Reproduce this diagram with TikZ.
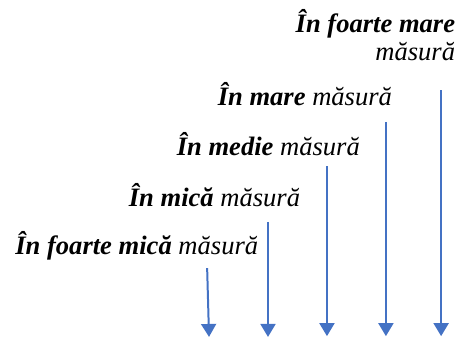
\documentclass[tikz,border=0pt]{standalone}
\usepackage{fontspec}
\setmainfont{Liberation Serif}
\usetikzlibrary{arrows.meta}
\definecolor{arrowBlue}{HTML}{4472C4}
\begin{document}
\begin{tikzpicture}[every node/.style={inner sep=0pt, outer sep=0pt}, level/.style={anchor=base east, font=\fontsize{20}{24}\selectfont\itshape}, down/.style={arrowBlue, line width=1.5pt, -{Triangle[width=11.25pt, length=9.75pt]}}]
	\useasboundingbox (0,0) rectangle (12.09,8.943);
	% scale labels
	\node[level] (veryHighText) at (12.04, 8.07) {\textbf{În foarte mare}};
	\node[level] (veryHighText2) at (12.04, 7.33) {măsură};
	\node[level] (highText) at (10.37, 6.14) {\textbf{În mare} măsură};
	\node[level] (mediumText) at (9.52, 4.82) {\textbf{În medie} măsură};
	\node[level] (lowText) at (7.94, 3.47) {\textbf{În mică} măsură};
	\node[level] (veryLowText) at (6.83, 2.20) {\textbf{În foarte mică} măsură};
	% arrows
	\coordinate (veryLowTop) at (5.48, 1.85);
	\coordinate (veryLowEnd) at (5.53, 0.03);
	\coordinate (lowTop) at (7.09, 3.07);
	\coordinate (lowEnd) at (7.09, 0.03);
	\coordinate (mediumTop) at (8.65, 4.55);
	\coordinate (mediumEnd) at (8.65, 0.05);
	\coordinate (highTop) at (10.21, 5.72);
	\coordinate (highEnd) at (10.21, 0.05);
	\coordinate (veryHighTop) at (11.67, 6.56);
	\coordinate (veryHighEnd) at (11.67, 0.05);
	\draw[down] (veryLowTop) -- (veryLowEnd);
	\draw[down] (lowTop) -- (lowEnd);
	\draw[down] (mediumTop) -- (mediumEnd);
	\draw[down] (highTop) -- (highEnd);
	\draw[down] (veryHighTop) -- (veryHighEnd);
\end{tikzpicture}
\end{document}
